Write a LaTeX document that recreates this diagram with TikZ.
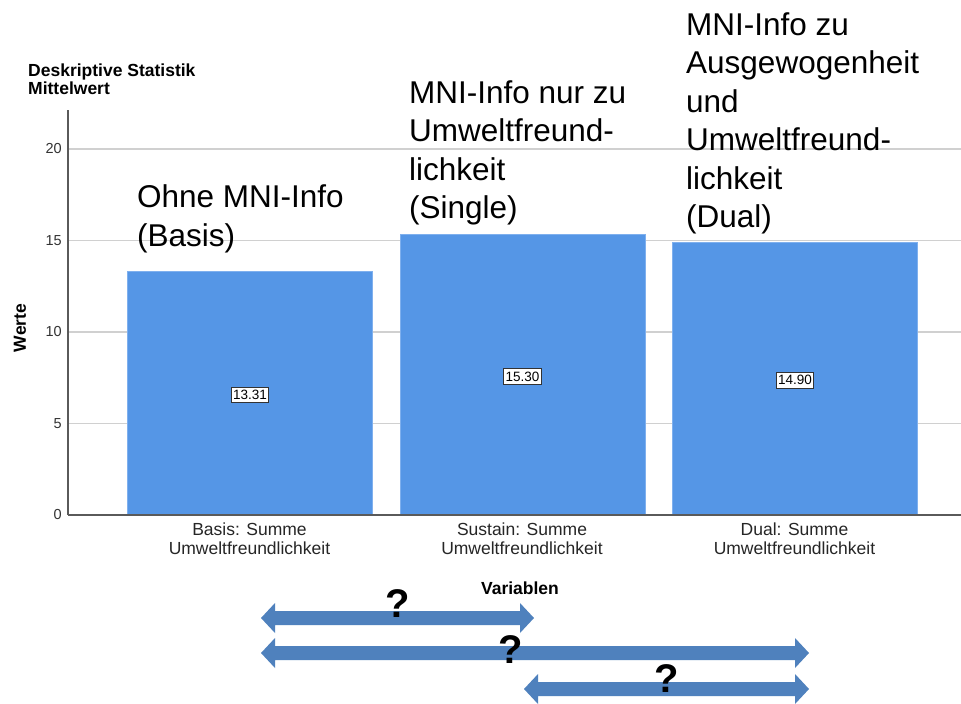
\documentclass[tikz,border=0pt]{standalone}
\usepackage{fontspec}
\setmainfont{Liberation Sans}
\definecolor{barblue}{HTML}{5596E6}
\definecolor{baredge}{HTML}{7FB0EE}
\definecolor{arrowblue}{HTML}{4F81BD}
\definecolor{gridgray}{HTML}{D0D0D0}
\definecolor{axisgray}{HTML}{5A5A5A}
\tikzset{
  gridline/.style={draw=gridgray, line width=1.3pt},
  axisline/.style={draw=axisgray, line width=1.3pt},
  bar/.style={fill=barblue, draw=baredge, line width=0.8pt, anchor=south west, minimum width=245pt, inner sep=0pt},
  valbox/.style={draw=black!80, fill=white, line width=0.9pt, inner xsep=2pt, inner ysep=3pt, font=\fontsize{13.5}{15}\selectfont},
  catlabel/.style={align=center, inner sep=0pt, anchor=north, font=\fontsize{17.5}{19}\selectfont, text=black!85},
  ticklabel/.style={anchor=east, inner sep=0pt, font=\fontsize{14.5}{16}\selectfont, text=black!80},
  smallbold/.style={inner sep=0pt, font=\bfseries\fontsize{17.5}{18}\selectfont},
  bigtext/.style={align=left, anchor=north west, inner sep=0pt, font=\fontsize{31.5}{38.5}\selectfont},
  qmark/.style={inner sep=0pt, font=\bfseries\fontsize{40}{42}\selectfont},
  blockarrow/.style={fill=arrowblue}
}
\newcommand\dblarrow[3]{%
  \fill[blockarrow] (#1,#3) -- ({#1+14},{#3-15}) -- ({#1+14},{#3-7}) -- ({#2-14},{#3-7})
    -- ({#2-14},{#3-15}) -- (#2,#3) -- ({#2-14},{#3+15}) -- ({#2-14},{#3+7})
    -- ({#1+14},{#3+7}) -- ({#1+14},{#3+15}) -- cycle;}
\begin{document}
\begin{tikzpicture}[x=1pt,y=-1pt]
\useasboundingbox[fill=white] (0,0) rectangle (961,704);
% grid lines
\foreach \v in {5,10,15,20} {
  \draw[gridline] (68,{515-18.3*\v}) -- (961,{515-18.3*\v});
}
% tick labels
\foreach \v in {0,5,10,15,20} {
  \node[ticklabel] (t\v) at (62,{515-18.3*\v}) {\v};
}
% bars
\node[bar, minimum height={18.3*13.31pt}] (b1) at (127,515) {};
\node[bar, minimum height={18.3*15.30pt}] (b2) at (399.5,515) {};
\node[bar, minimum height={18.3*14.90pt}] (b3) at (672,515) {};
% axes
\draw[axisline] (68,110) -- (68,515);
\draw[axisline] (68,515) -- (961,515);
% value boxes
\node[valbox] (v1) at ([yshift=-2pt]b1.center) {13.31};
\node[valbox] (v2) at ([yshift=-2pt]b2.center) {15.30};
\node[valbox] (v3) at ([yshift=-2pt]b3.center) {14.90};
% category labels
\node[catlabel] (c1) at (249.5,523) {Basis: Summe\\Umweltfreundlichkeit};
\node[catlabel] (c2) at (522,523) {Sustain: Summe\\Umweltfreundlichkeit};
\node[catlabel] (c3) at (794.5,523) {Dual: Summe\\Umweltfreundlichkeit};
% titles
\node[smallbold, anchor=base west] (title1) at (28,76) {Deskriptive Statistik};
\node[smallbold, anchor=base west] (title2) at (28,94) {Mittelwert};
\node[smallbold, rotate=90] (ylab) at (20,328) {Werte};
\node[smallbold] (xlab) at (520,588) {Variablen};
% annotations
\node[bigtext] (a1) at (137,184.5) {Ohne MNI-Info\\(Basis)};
\node[bigtext] (a2) at (409,80.5) {MNI-Info nur zu\\Umweltfreund-\\lichkeit\\(Single)};
\node[bigtext] (a3) at (686,12.5) {MNI-Info zu\\Ausgewogenheit\\und\\Umweltfreund-\\lichkeit\\(Dual)};
% arrows
\dblarrow{261}{534}{618}
\dblarrow{261}{809}{653}
\dblarrow{524}{809}{689}
% question marks
\node[qmark] (q1) at (398,604) {?};
\node[qmark] (q2) at (511,650) {?};
\node[qmark] (q3) at (667,679) {?};
\end{tikzpicture}
\end{document}
